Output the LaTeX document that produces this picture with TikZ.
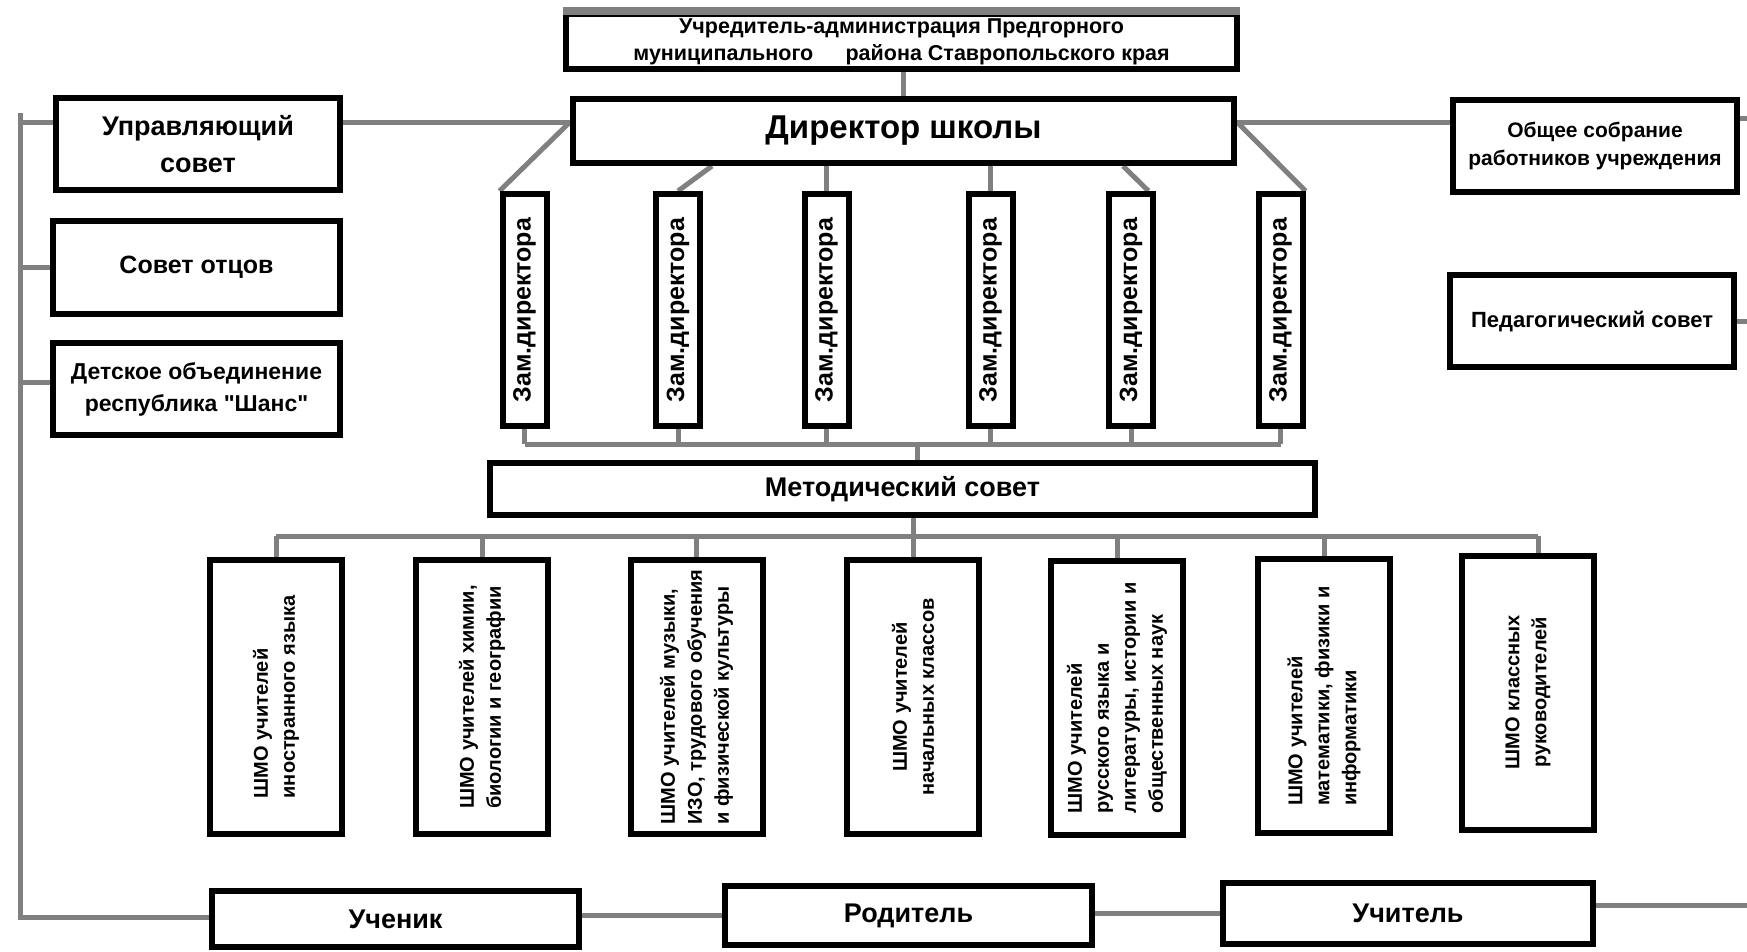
\documentclass[tikz,border=0pt]{standalone}
\usepackage{fontspec}
\setmainfont{Liberation Sans}[Ligatures=TeXOff]
\usetikzlibrary{calc,backgrounds}
\definecolor{conn}{RGB}{128,128,128}
\tikzset{
  box/.style={draw=black, line width=6pt, fill=white, inner sep=0pt, align=center, font=\bfseries},
  link/.style={draw=conn, line width=5pt},
  vlabel/.style={rotate=90, inner sep=0pt, font=\bfseries\fontsize{20}{27}\selectfont},
  zlabel/.style={rotate=90, inner sep=0pt, font=\bfseries\fontsize{25}{28}\selectfont},
  zam/.style={box, minimum width=44pt, minimum height=232pt},
  shmo/.style={box, minimum width=132pt, minimum height=274pt},
  bot/.style={box, font=\bfseries\fontsize{27}{30}\selectfont},
}
\begin{document}
\begin{tikzpicture}[x=1pt,y=-1pt]
\useasboundingbox (0,0) rectangle (1747,951);

% top
\node[box, minimum width=671pt, minimum height=55pt, font=\bfseries\fontsize{21.5}{27}\selectfont] (uchr) at (901.5,41.5)
  {Учредитель-администрация Предгорного\\муниципального\hspace{1.5em}района Ставропольского края};
\draw[conn, line width=8pt] (uchr.north west) -- (uchr.north east);
\node[box, minimum width=661pt, minimum height=64pt, font=\bfseries\fontsize{33}{36}\selectfont] (dir) at (903.5,131) {Директор школы};

% left column
\node[box, minimum width=284pt, minimum height=92pt, font=\bfseries\fontsize{27}{37}\selectfont] (upr) at (198,144) {Управляющий\\совет};
\node[box, minimum width=287pt, minimum height=93pt, font=\bfseries\fontsize{25}{30}\selectfont] (otc) at (196.5,267.5) {Совет отцов};
\node[box, minimum width=287pt, minimum height=92pt, font=\bfseries\fontsize{23}{32}\selectfont] (det) at (196.5,389) {Детское объединение\\республика "Шанс"};

% right column
\node[box, minimum width=284pt, minimum height=92pt, font=\bfseries\fontsize{21}{28}\selectfont] (obs) at (1595,146) {Общее собрание\\работников учреждения};
\node[box, minimum width=284pt, minimum height=92pt, font=\bfseries\fontsize{22}{27}\selectfont] (ped) at (1592,321) {Педагогический совет};

% deputies
\foreach \i/\x in {1/524.5, 2/678, 3/826.5, 4/990.5, 5/1131, 6/1280.5}{
  \node[zam] (zam\i) at (\x,310) {};
  \node[zlabel] (zt\i) at (\x,310) {Зам.директора};
}

% methodical council
\node[box, minimum width=825pt, minimum height=52pt, font=\bfseries\fontsize{27}{30}\selectfont] (met) at (902.5,489) {Методический совет};

% SHMO
\node[shmo] (s1) at (276,697) {};
\node[vlabel, align=left] (st1) at (s1) {ШМО учителей\\иностранного языка};
\node[shmo] (s2) at (482,697) {};
\node[vlabel, align=left] (st2) at (s2) {ШМО учителей химии,\\биологии и географии};
\node[shmo] (s3) at (696.5,697) {};
\node[vlabel, align=left] (st3) at (s3) {ШМО учителей музыки,\\ИЗО, трудового обучения\\и физической культуры};
\node[shmo] (s4) at (913,697) {};
\node[vlabel, align=center] (st4) at (s4) {ШМО учителей\\начальных классов};
\node[shmo] (s5) at (1117,698) {};
\node[vlabel, align=left] (st5) at (s5) {ШМО учителей\\русского языка и\\литературы, истории и\\общественных наук};
\node[shmo] (s6) at (1324,696) {};
\node[vlabel, align=left] (st6) at (s6) {ШМО учителей\\математики, физики и\\информатики};
\node[shmo] (s7) at (1528,692.5) {};
\node[vlabel, align=center] (st7) at (s7) {ШМО классных\\руководителей};

% bottom row
\node[bot, minimum width=367pt, minimum height=56pt] (uch) at (395.5,919) {Ученик};
\node[bot, minimum width=367pt, minimum height=59pt] (rod) at (908.5,915.5) {Родитель};
\node[bot, minimum width=370pt, minimum height=61pt] (uct) at (1408,913.5) {Учитель};

% helper coordinates
\coordinate (L) at (20,113);
\coordinate (Lb) at (20,917);
\coordinate (yU) at (0,122);
\coordinate (y3) at (0,382);
\coordinate (R) at (1747,0);
\coordinate (yR1) at (0,118);
\coordinate (d2) at (712,0);
\coordinate (d5) at (1123,0);
\coordinate (bus) at (0,444);
\coordinate (mtop) at (917,0);
\coordinate (mbot) at (913,0);
\coordinate (sbus) at (0,536);
\coordinate (yR3) at (0,905);

\begin{scope}[on background layer]
  \draw[link] (uchr.south -| dir.north) -- (dir.north);
  \draw[link] (upr.east |- yU) -- (dir.west |- yU);
  \draw[link] (dir.east |- yU) -- (obs.west |- yU);
  \draw[link] (obs.east |- yR1) -- (R |- yR1);
  \draw[link] (ped.east) -- (R |- ped.east);
  % director to deputies
  \draw[link] (dir.west |- yU) -- (zam1.north west);
  \draw[link] (dir.south -| d2) -- (zam2.north);
  \draw[link] (dir.south -| zam3.north) -- (zam3.north);
  \draw[link] (dir.south -| zam4.north) -- (zam4.north);
  \draw[link] (dir.south -| d5) -- ($(zam5.north)!0.7!(zam5.north east)$);
  \draw[link] (dir.east |- yU) -- (zam6.north east);
  % deputies bus
  \draw[link] (zam1.south |- bus) -- (zam6.south |- bus);
  \foreach \i in {1,...,6}{ \draw[link] (zam\i.south) -- (zam\i.south |- bus); }
  \draw[link] (mtop |- bus) -- (mtop |- met.north);
  % SHMO bus
  \draw[link] (mbot |- met.south) -- (mbot |- sbus);
  \draw[link] (s1.north |- sbus) -- ([xshift=10pt]s7.north |- sbus);
  \foreach \i in {1,...,6}{ \draw[link] (s\i.north |- sbus) -- (s\i.north); }
  \draw[link] ([xshift=10pt]s7.north |- sbus) -- ([xshift=10pt]s7.north);
  % left bus
  \draw[link] (L) -- (Lb) -- (uch.west |- Lb);
  \draw[link] (L |- yU) -- (upr.west |- yU);
  \draw[link] (L |- otc.west) -- (otc.west);
  \draw[link] (L |- y3) -- (det.west |- y3);
  % bottom row
  \draw[link] (uch.east |- rod.west) -- (rod.west);
  \draw[link] (rod.east |- uct.west) -- (uct.west);
  \draw[link] (uct.east |- yR3) -- (R |- yR3);
\end{scope}
\end{tikzpicture}
\end{document}
